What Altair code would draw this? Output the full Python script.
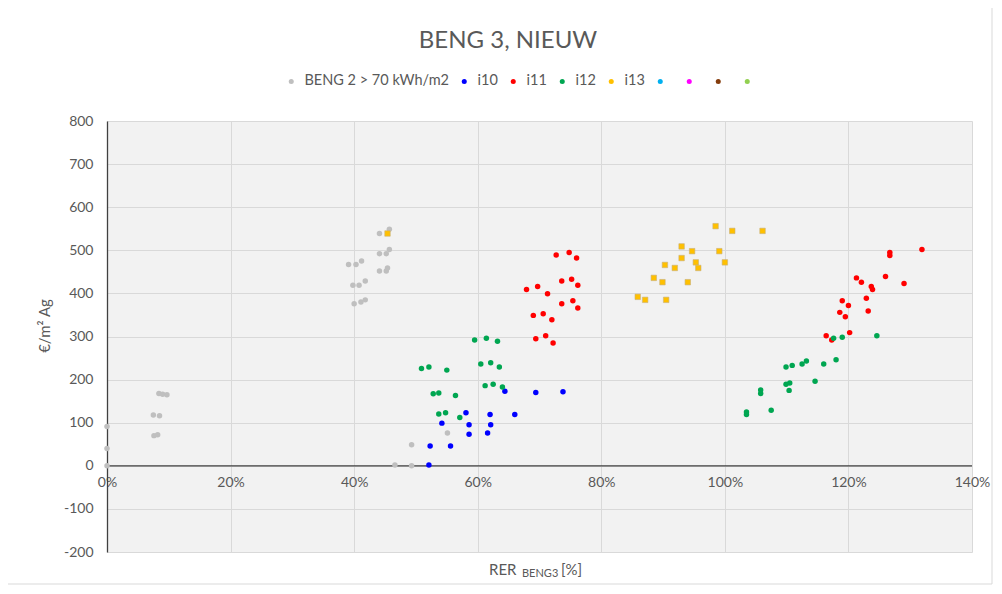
import altair as alt
import pandas as pd

# ---------------- data ----------------
series_names = ["BENG 2 > 70 kWh/m2", "i10", "i11", "i12", "i13", "e1", "e2", "e3", "e4"]
series_colors = ["#bfbfbf", "#0000ff", "#ff0000", "#00a651", "#ffc000",
                 "#00b0f0", "#ff00ff", "#843c0c", "#92d050"]

beng2_x = [0, 0, 0, 8.4, 9.0, 9.7, 7.5, 8.5, 7.6, 8.2,
           44.1, 45.7, 44.1, 45.2, 45.7, 39.1, 40.3, 41.2, 44.1, 45.2, 45.4,
           39.8, 40.8, 41.8, 40.0, 41.1, 41.8, 55.1, 49.3, 46.6, 49.3]
beng2_y = [91, 40, 0, 168, 166, 165, 118, 116, 70, 72,
           539, 549, 492, 492, 502, 467, 467, 475, 452, 452, 459,
           419, 419, 429, 376, 380, 385, 76, 49, 2, 0]

i10_x = [64.4, 69.4, 73.8, 58.1, 62.0, 66.0, 54.2, 58.6, 62.1, 58.6, 61.6, 52.3, 55.6, 52.1]
i10_y = [173, 170, 172, 123, 119, 119, 99, 95, 95, 73, 76, 46, 46, 2]

i11_x = [72.7, 74.8, 76.0, 73.6, 75.2, 76.2, 67.9, 69.7, 71.3, 73.6, 75.4, 76.2,
         69.0, 70.6, 72.0, 69.4, 71.0, 72.2,
         126.7, 126.7, 131.9, 121.3, 122.1, 126.0, 123.7, 123.9, 129.0, 119.0,
         120.0, 122.9, 118.6, 119.5, 123.2, 116.4, 117.3, 120.2]
i11_y = [489, 495, 482, 429, 433, 419, 409, 416, 399, 376, 383, 366,
         349, 353, 339, 295, 302, 285,
         495, 488, 502, 436, 426, 439, 416, 409, 423, 383,
         372, 389, 356, 346, 359, 302, 292, 309]

i12_x = [50.9, 52.1, 55.0, 52.8, 53.7, 56.4, 53.7, 54.8, 57.1, 59.5, 61.4, 63.2,
         60.5, 62.1, 63.5, 61.2, 62.5, 64.0,
         117.6, 119.0, 124.6, 118.0, 116.0, 113.2, 112.5, 110.9, 109.9, 114.6,
         109.9, 110.5, 110.4, 105.8, 105.8, 107.5, 103.5, 103.5]
i12_y = [226, 229, 222, 167, 169, 163, 120, 123, 112, 292, 296, 289,
         236, 239, 229, 186, 189, 183,
         296, 298, 302, 246, 236, 243, 236, 233, 229, 196,
         189, 192, 175, 176, 168, 129, 125, 119]

i13_x = [45.4, 98.5, 101.2, 106.1, 93.0, 94.7, 99.1, 93.0, 90.3, 95.3, 100.0,
         91.9, 95.7, 88.5, 89.9, 94.0, 85.9, 87.1, 90.5]
i13_y = [539, 556, 545, 545, 509, 498, 498, 482, 466, 472, 472,
         459, 459, 436, 426, 426, 392, 385, 385]

x_ticks = [0, 20, 40, 60, 80, 100, 120, 140]
y_ticks = [-200, -100, 0, 100, 200, 300, 400, 500, 600, 700, 800]

chart_title = "BENG 3, NIEUW"
y_title = "€/m² Ag"
x_title_main = "RER"
x_title_sub = "BENG3"
x_title_unit = "[%]"

# ---------------- build table ----------------
rows = []
for name, xs, ys in [(series_names[0], beng2_x, beng2_y), ("i10", i10_x, i10_y),
                     ("i11", i11_x, i11_y), ("i12", i12_x, i12_y), ("i13", i13_x, i13_y)]:
    for a, b in zip(xs, ys):
        rows.append({"series": name, "rer": a, "cost": b})
df = pd.DataFrame(rows)

FONT = "Lato"
TXT = "#595959"
W, H = 865, 431

xenc = alt.X("rer:Q",
             scale=alt.Scale(domain=[0, 140], nice=False, zero=False),
             axis=alt.Axis(values=x_ticks, labelExpr="datum.value + '%'",
                           offset=-H * 0.2, domain=False, ticks=False,
                           grid=True, gridColor="#d9d9d9", gridWidth=1,
                           labelFlush=False, labelOverlap=False,
                           labelFont=FONT, labelFontSize=14, labelColor=TXT,
                           labelPadding=10, title=None))
yenc = alt.Y("cost:Q",
             scale=alt.Scale(domain=[-200, 800], nice=False, zero=False),
             axis=alt.Axis(values=y_ticks, labelExpr="'' + datum.value",
                           domain=True, domainColor="#404040",
                           domainWidth=1.3, ticks=False, grid=True,
                           gridColor="#d9d9d9", gridWidth=1,
                           labelFlush=False, labelOverlap=False,
                           labelFont=FONT, labelFontSize=14, labelColor=TXT,
                           labelPadding=14, title=None))
color = alt.Color("series:N",
                  scale=alt.Scale(domain=series_names, range=series_colors),
                  legend=alt.Legend(title=None, orient="none", legendX=177, legendY=-47,
                                    direction="horizontal", columns=9,
                                    labelExpr="indexof(['e1','e2','e3','e4'], datum.label) >= 0 ? '' : datum.label",
                                    labelFont=FONT, labelFontSize=14.5, labelColor=TXT,
                                    labelLimit=300, symbolType="circle", symbolSize=25,
                                    symbolStrokeWidth=0, columnPadding=8, labelOffset=6,
                                    padding=0))

zero_rule = alt.Chart(pd.DataFrame({"cost": [0]})).mark_rule(
    color="#404040", strokeWidth=1.3).encode(y=yenc)

circles = alt.Chart(df).transform_filter("datum.series != 'i13'").mark_point(
    filled=True, shape="circle", size=30, opacity=1).encode(x=xenc, y=yenc, color=color)

squares = alt.Chart(df).transform_filter("datum.series == 'i13'").mark_point(
    filled=True, shape="square", size=30, opacity=1, stroke="#c8b07a",
    strokeWidth=0.6).encode(x=xenc, y=yenc, color=color)

title_txt = alt.Chart(pd.DataFrame({"t": [chart_title]})).mark_text(
    font=FONT, fontSize=24, color=TXT, align="center", baseline="alphabetic").encode(
    text="t:N", x=alt.value(401), y=alt.value(-73))

ytitle_txt = alt.Chart(pd.DataFrame({"t": [y_title]})).mark_text(
    font=FONT, fontSize=15, color=TXT, align="center", baseline="middle", angle=270).encode(
    text="t:N", x=alt.value(-62), y=alt.value(205))

xt1 = alt.Chart(pd.DataFrame({"t": [x_title_main]})).mark_text(
    font=FONT, fontSize=15, color=TXT, align="left", baseline="alphabetic").encode(
    text="t:N", x=alt.value(382), y=alt.value(454))
xt2 = alt.Chart(pd.DataFrame({"t": [x_title_sub]})).mark_text(
    font=FONT, fontSize=11, color=TXT, align="left", baseline="alphabetic").encode(
    text="t:N", x=alt.value(415), y=alt.value(456))
xt3 = alt.Chart(pd.DataFrame({"t": [x_title_unit]})).mark_text(
    font=FONT, fontSize=15, color=TXT, align="left", baseline="alphabetic").encode(
    text="t:N", x=alt.value(454), y=alt.value(454))

frame = alt.Chart(pd.DataFrame({"f": [1]})).mark_rect(
    fillOpacity=0, stroke="#d9d9d9", strokeWidth=1).encode(
    x=alt.value(-100), x2=alt.value(885), y=alt.value(-114), y2=alt.value(463))

chart = alt.layer(zero_rule, circles, squares, title_txt, ytitle_txt, xt1, xt2, xt3, frame).properties(
    width=W, height=H,
    autosize=alt.AutoSizeParams(type="none"),
    padding={"left": 99, "top": 113, "right": 22, "bottom": 34},
    background="white",
).configure_view(fill="#f2f2f2", stroke="transparent")

chart.save("out.html", embed_options={"renderer": "svg", "actions": False})
